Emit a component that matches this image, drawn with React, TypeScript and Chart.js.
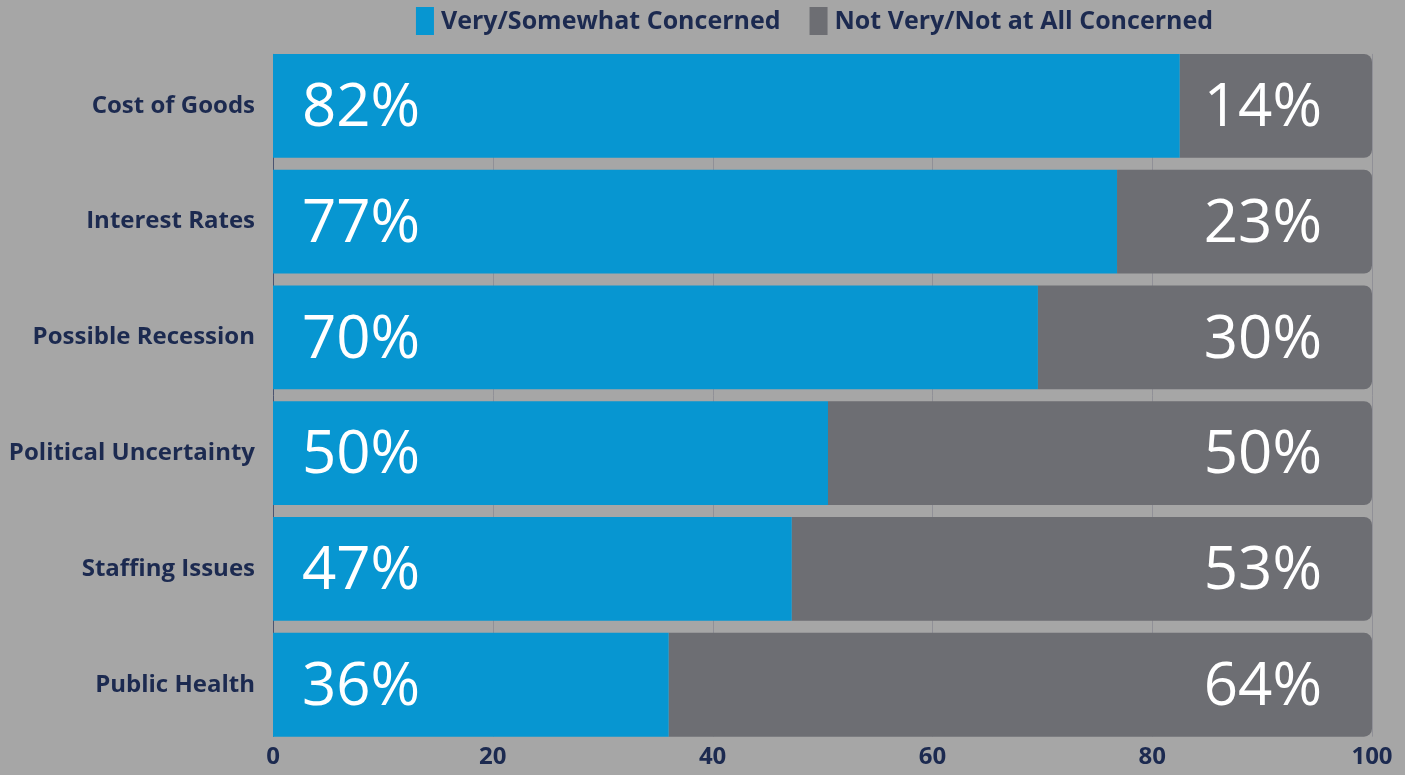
import React, { useEffect, useRef } from "react";
import { Chart, registerables } from "chart.js";

Chart.register(...registerables);

const categories = [
  "Cost of Goods",
  "Interest Rates",
  "Possible Recession",
  "Political Uncertainty",
  "Staffing Issues",
  "Public Health",
];
const concerned = [82.5, 76.8, 69.6, 50.5, 47.2, 36];
const notConcernedBar = [17.5, 23.2, 30.4, 49.5, 52.8, 64];
const concernedLabels = ["82%", "77%", "70%", "50%", "47%", "36%"];
const notConcernedLabels = ["14%", "23%", "30%", "50%", "53%", "64%"];
const seriesNames = ["Very/Somewhat Concerned", "Not Very/Not at All Concerned"];
const xTicks = [0, 20, 40, 60, 80, 100];

const NAVY = "#1c2a50";
const BLUE = "#0796d1";
const GRAY = "#6d6e73";
const BG = "#a6a6a6";
const GRID = "#909097";
const AXIS = "#4a5470";

const gridPlugin = {
  id: "barGrid",
  beforeDatasetsDraw(chart: any) {
    const ctx = chart.ctx;
    const bars = chart.getDatasetMeta(0).data;
    if (!bars.length) return;
    const first = bars[0];
    const last = bars[bars.length - 1];
    const top = first.y - first.height / 2;
    const bottom = last.y + last.height / 2;
    const xs = chart.scales.x;
    ctx.save();
    ctx.lineWidth = 1;
    xTicks.forEach((v) => {
      const px = Math.round(xs.getPixelForValue(v)) + 0.5;
      ctx.strokeStyle = v === 0 ? AXIS : GRID;
      ctx.beginPath();
      ctx.moveTo(px, top);
      ctx.lineTo(px, bottom);
      ctx.stroke();
    });
    ctx.restore();
  },
};

const labelPlugin = {
  id: "barLabels",
  afterDatasetsDraw(chart: any) {
    const ctx = chart.ctx;
    ctx.save();
    ctx.font = "400 60px 'Open Sans'";
    ctx.fillStyle = "#ffffff";
    ctx.textBaseline = "middle";
    const m0 = chart.getDatasetMeta(0);
    const m1 = chart.getDatasetMeta(1);
    m0.data.forEach((bar: any, i: number) => {
      ctx.textAlign = "left";
      ctx.fillText(concernedLabels[i], bar.base + 29, bar.y + 3);
    });
    m1.data.forEach((bar: any, i: number) => {
      ctx.textAlign = "right";
      ctx.fillText(notConcernedLabels[i], bar.x - 50, bar.y + 3);
    });
    ctx.restore();
  },
};

const legendPlugin = {
  id: "customLegend",
  afterDraw(chart: any) {
    const ctx = chart.ctx;
    const colors = chart.data.datasets.map((d: any) => d.backgroundColor);
    const names = chart.data.datasets.map((d: any) => d.label);
    const boxW = 18;
    const boxH = 28;
    const textGap = 7;
    const itemGap = 29;
    ctx.save();
    ctx.font = "bold 25px 'Open Sans'";
    const widths = names.map((n: string) => boxW + textGap + ctx.measureText(n).width);
    const total = widths.reduce((a: number, b: number) => a + b, 0) + itemGap * (names.length - 1);
    const area = chart.chartArea;
    let x = (area.left + area.right) / 2 - 8 - total / 2;
    const top = 7;
    ctx.textBaseline = "middle";
    ctx.textAlign = "left";
    names.forEach((n: string, i: number) => {
      ctx.fillStyle = colors[i];
      ctx.fillRect(x, top, boxW, boxH);
      ctx.fillStyle = NAVY;
      ctx.fillText(n, x + boxW + textGap, top + boxH / 2 + 1);
      x += widths[i] + itemGap;
    });
    ctx.restore();
  },
};

export default function App() {
  const ref = useRef<HTMLCanvasElement | null>(null);
  useEffect(() => {
    document.body.style.margin = "0";
    document.body.style.background = BG;
    const chart = new Chart(ref.current as HTMLCanvasElement, {
      type: "bar",
      data: {
        labels: categories,
        datasets: [
          {
            label: seriesNames[0],
            data: concerned,
            backgroundColor: BLUE,
            borderWidth: 0,
            borderRadius: 0,
            borderSkipped: false,
          },
          {
            label: seriesNames[1],
            data: notConcernedBar,
            backgroundColor: GRAY,
            borderWidth: 0,
            borderRadius: { topLeft: 0, bottomLeft: 0, topRight: 8, bottomRight: 8 },
            borderSkipped: false,
          },
        ],
      },
      options: {
        indexAxis: "y",
        animation: false,
        responsive: false,
        maintainAspectRatio: false,
        layout: { padding: { left: 9, right: 33, top: 48, bottom: 3 } },
        datasets: { bar: { barPercentage: 0.897, categoryPercentage: 1 } },
        plugins: {
          legend: { display: false },
          tooltip: { enabled: false },
        },
        scales: {
          x: {
            stacked: true,
            min: 0,
            max: 100,
            afterBuildTicks: (axis: any) => {
              axis.ticks = xTicks.map((v) => ({ value: v }));
            },
            grid: { display: false, drawTicks: false },
            border: { display: false },
            ticks: {
              color: NAVY,
              padding: 0,
              font: { family: "'Open Sans'", size: 24, weight: "bold" },
            },
          },
          y: {
            stacked: true,
            afterFit: (axis: any) => {
              axis.width = 264;
            },
            grid: { display: false, drawTicks: false },
            border: { display: false },
            ticks: {
              color: NAVY,
              padding: 18,
              font: { family: "'Open Sans'", size: 24, weight: "bold" },
            },
          },
        },
      },
      plugins: [gridPlugin, labelPlugin, legendPlugin],
    });
    return () => chart.destroy();
  }, []);
  return (
    <div style={{ background: BG, width: 1405, height: 775 }}>
      <canvas ref={ref} width={1405} height={775} />
    </div>
  );
}
